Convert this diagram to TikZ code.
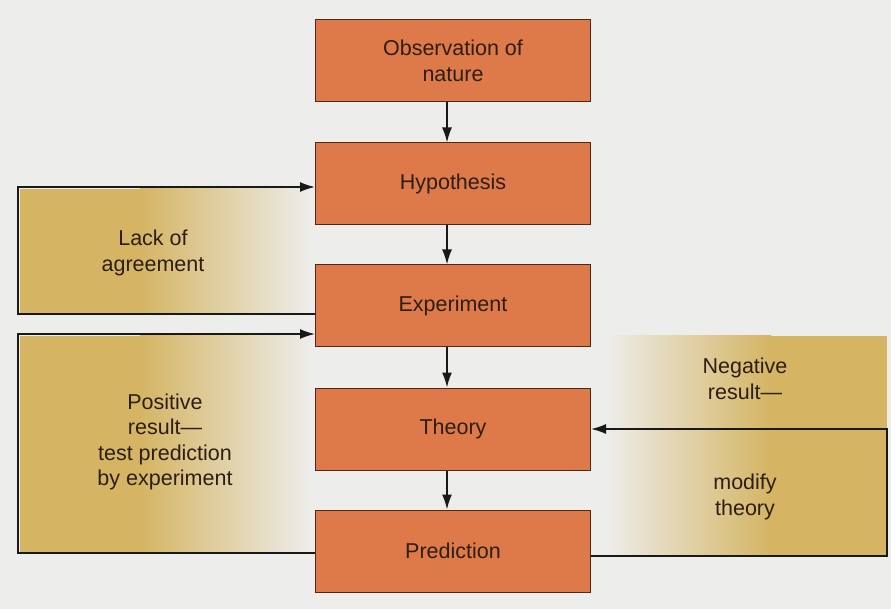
\documentclass[tikz,border=0pt]{standalone}
\usepackage{fontspec}
\setmainfont{Liberation Sans}
\usetikzlibrary{shapes, arrows.meta}

\definecolor{boxfill}{RGB}{222,122,74}
\definecolor{boxline}{RGB}{80,40,25}
\definecolor{gold}{RGB}{213,181,100}
\definecolor{paper}{RGB}{237,237,235}
\definecolor{ink}{RGB}{45,30,20}

\tikzset{
	stage/.style={draw=boxline, line width=1pt, fill=boxfill, minimum width=275pt, minimum height=82pt, align=center, text=ink, font=\fontsize{21.5}{26}\selectfont},
	note/.style={align=center, text=ink, font=\fontsize{21.5}{25.5}\selectfont},
	flow/.style={line width=1.7pt, draw=black!90, -{Latex[length=15pt,width=10pt]}},
}

\begin{document}
\begin{tikzpicture}[x=1pt, y=-1pt]
	\useasboundingbox (0,0) rectangle (891,609);
	\fill[paper] (0,0) rectangle (891,609);
	%Panels
		\fill[gold] (20,189) rectangle (141,313);
		\shade[left color=gold, right color=paper] (140,189) rectangle (312,313);
		\fill[gold] (20,336) rectangle (141,552);
		\shade[left color=gold, right color=paper] (140,336) rectangle (312,552);
		\fill[gold] (770,336) rectangle (887,555);
		\shade[left color=paper, right color=gold] (605,336) rectangle (771,555);
	%Stages
		\node[stage] (obs) at (453, 61) {Observation of\\nature};
		\node[stage] (hypo) at (453,184) {Hypothesis};
		\node[stage] (exper) at (453,306) {Experiment};
		\node[stage] (theo) at (453,429) {Theory};
		\node[stage] (pred) at (453,551) {Prediction};
	%Stage->Stage
		\draw[flow] ([xshift=-6pt]obs.south) -- ([xshift=-6pt]hypo.north);
		\draw[flow] ([xshift=-6pt]hypo.south) -- ([xshift=-6pt]exper.north);
		\draw[flow] ([xshift=-6pt]exper.south) -- ([xshift=-6pt]theo.north);
		\draw[flow] ([xshift=-6pt]theo.south) -- ([xshift=-6pt]pred.north);
	%Experiment->Hypothesis
		\draw[flow] ([yshift=-8pt]exper.west) -- ++(-297,0) |- ([yshift=-3pt]hypo.west);
		\node[note] (lack) at (153,253) {Lack of\\agreement};
	%Prediction->Experiment
		\draw[flow] ([yshift=-2pt]pred.west) -- ++(-297,0) |- ([yshift=-28pt]exper.west);
		\node[note] (pos) at (165,442) {Positive\\result---\\test prediction\\by experiment};
	%Prediction->Theory
		\draw[flow] ([yshift=-5pt]pred.east) -- ++(296,0) |- (theo.east);
		\node[note] (neg) at (745,379) {Negative\\result---};
		\node[note] (mod) at (745,497) {modify\\theory};
\end{tikzpicture}
\end{document}
